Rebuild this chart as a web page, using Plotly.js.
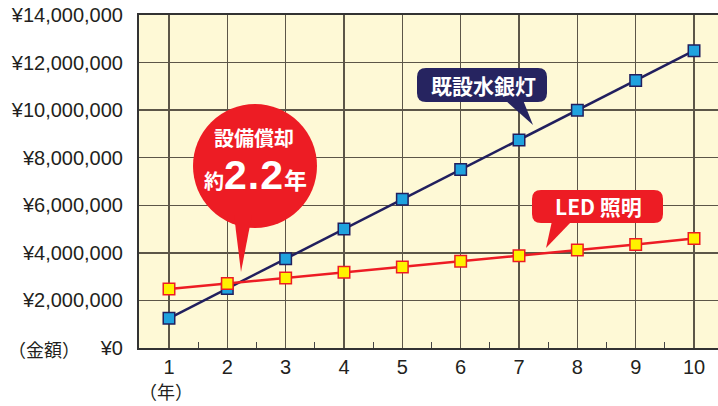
<!DOCTYPE html>
<html><head><meta charset="utf-8">
<script src="https://cdn.plot.ly/plotly-3.0.1.min.js"></script>
<style>html,body{margin:0;padding:0;background:#fff}#c{width:718px;height:406px}</style>
</head><body><div id="c"></div>
<script>
// Data
const years = [1,2,3,4,5,6,7,8,9,10];
const mercury = [1250000,2500000,3750000,5000000,6250000,7500000,8750000,10000000,11250000,12500000];
const led = [2480000,2710000,2940000,3180000,3410000,3650000,3880000,4120000,4350000,4600000];
const yTickVals = [0,2000000,4000000,6000000,8000000,10000000,12000000,14000000];
const yTickText = ['¥0','¥2,000,000','¥4,000,000','¥6,000,000','¥8,000,000','¥10,000,000','¥12,000,000','¥14,000,000'];
const xTickText = ['1','2','3','4','5','6','7','8','9','10'];
const minorVals = [1.5,2.5,3.5,4.5,5.5,6.5,7.5,8.5,9.5];

// Layout geometry (pixels)
const L = 139, T = 15, B = 348, W = 718, H = 406;
const RED = '#ED1C24', NAVY = '#262460';
const CJK = 'Noto Sans CJK JP, sans-serif';

function pp(points, closed){
  return points.map((p,i)=> (i?'L':'M') + (p[0]-L) + ',' + (T-p[1])).join(' ') + (closed?' Z':'');
}
function roundRect(x0,y0,x1,y1,r){
  const X=v=>v-L, Y=v=>T-v;
  return 'M'+X(x0+r)+','+Y(y0)+' L'+X(x1-r)+','+Y(y0)+' Q'+X(x1)+','+Y(y0)+' '+X(x1)+','+Y(y0+r)+
    ' L'+X(x1)+','+Y(y1-r)+' Q'+X(x1)+','+Y(y1)+' '+X(x1-r)+','+Y(y1)+
    ' L'+X(x0+r)+','+Y(y1)+' Q'+X(x0)+','+Y(y1)+' '+X(x0)+','+Y(y1-r)+
    ' L'+X(x0)+','+Y(y0+r)+' Q'+X(x0)+','+Y(y0)+' '+X(x0+r)+','+Y(y0)+' Z';
}
function pxShape(path, color){
  return {type:'path', xref:'paper', yref:'paper', xsizemode:'pixel', ysizemode:'pixel',
    xanchor:0, yanchor:1, path:path, fillcolor:color, line:{width:0}, layer:'above'};
}
const pw = W - L, ph = B - T;
function px(x){return (x-L)/pw;}
function py(y){return (B-y)/ph;}

const cx = 255, cy = 166, cr = 62;
const shapes = [
  {type:'circle', xref:'paper', yref:'paper', xsizemode:'pixel', ysizemode:'pixel',
   xanchor:0, yanchor:1, x0:cx-cr-L, x1:cx+cr-L, y0:T-(cy-cr), y1:T-(cy+cr),
   fillcolor:RED, line:{width:0}, layer:'above'},
  pxShape(pp([[234,215],[241,272],[252,215]],true), RED),
  pxShape(roundRect(417,68,547,102,9), NAVY),
  pxShape(pp([[505,100],[533,125],[523,100]],true), NAVY),
  pxShape(roundRect(532,190,663,223,9), RED),
  pxShape(pp([[552,221],[546,248],[572,221]],true), RED)
];

function ann(x, y, text, font){
  return {xref:'paper', yref:'paper', x:px(x), y:py(y), xanchor:'center', yanchor:'middle',
    text:text, showarrow:false, font:font};
}
const white = s => ({family:CJK, size:s, color:'#fff', weight:'bold'});
const annotations = [
  ann(254, 137, '設備償却', white(20)),
  ann(255, 175, '約<span style="font-size:41px;font-family:Liberation Sans, Arial;letter-spacing:1px">2.2</span><span style="font-size:23px">年</span>', white(20)),
  ann(483, 85, '既設水銀灯', white(21)),
  ann(598, 206, 'LED 照明', white(21)),
  ann(44, 349, '（金額）', {family:CJK, size:18, color:'#231f20'}),
  ann(166, 391, '（年）', {family:CJK, size:18, color:'#231f20'})
];

const traces = [
  {x:years, y:mercury, type:'scatter', mode:'lines+markers', name:'既設水銀灯',
   line:{color:'#211F5E', width:2.5},
   marker:{symbol:'square', size:11.5, color:'#1FA2DE', line:{color:'#211F5E', width:1.5}}},
  {x:years, y:led, type:'scatter', mode:'lines+markers', name:'LED 照明',
   line:{color:RED, width:2.5},
   marker:{symbol:'square', size:11.5, color:'#FFF200', line:{color:RED, width:1.5}}}
];

const layout = {
  width:W, height:H,
  margin:{l:L, r:0, t:T, b:H-B, pad:0},
  paper_bgcolor:'#fff', plot_bgcolor:'#FEF9D6',
  showlegend:false,
  font:{family:'Liberation Sans, Arial, sans-serif', size:20, color:'#231f20'},
  xaxis:{range:[0.486,10.411], tickmode:'array', tickvals:years, ticktext:xTickText,
    showgrid:true, gridcolor:'#5c5648', gridwidth:1.3, zeroline:false, automargin:false,
    showline:true, linecolor:'#333', linewidth:2, mirror:true, ticks:'',
    tickfont:{size:20, color:'#231f20'},
    minor:{tickmode:'array', tickvals:minorVals, ticks:'inside', ticklen:6, tickwidth:1.3, tickcolor:'#444', showgrid:false}},
  yaxis:{range:[0,14000000], tickmode:'array', tickvals:yTickVals, ticktext:yTickText,
    showgrid:true, gridcolor:'#5c5648', gridwidth:1.3, zeroline:false, automargin:false,
    showline:true, linecolor:'#333', linewidth:2, ticks:'', ticklabelstandoff:10,
    tickfont:{size:20, color:'#231f20'}},
  shapes:shapes,
  annotations:annotations
};

Plotly.newPlot('c', traces, layout, {staticPlot:true, displayModeBar:false});
</script></body></html>
